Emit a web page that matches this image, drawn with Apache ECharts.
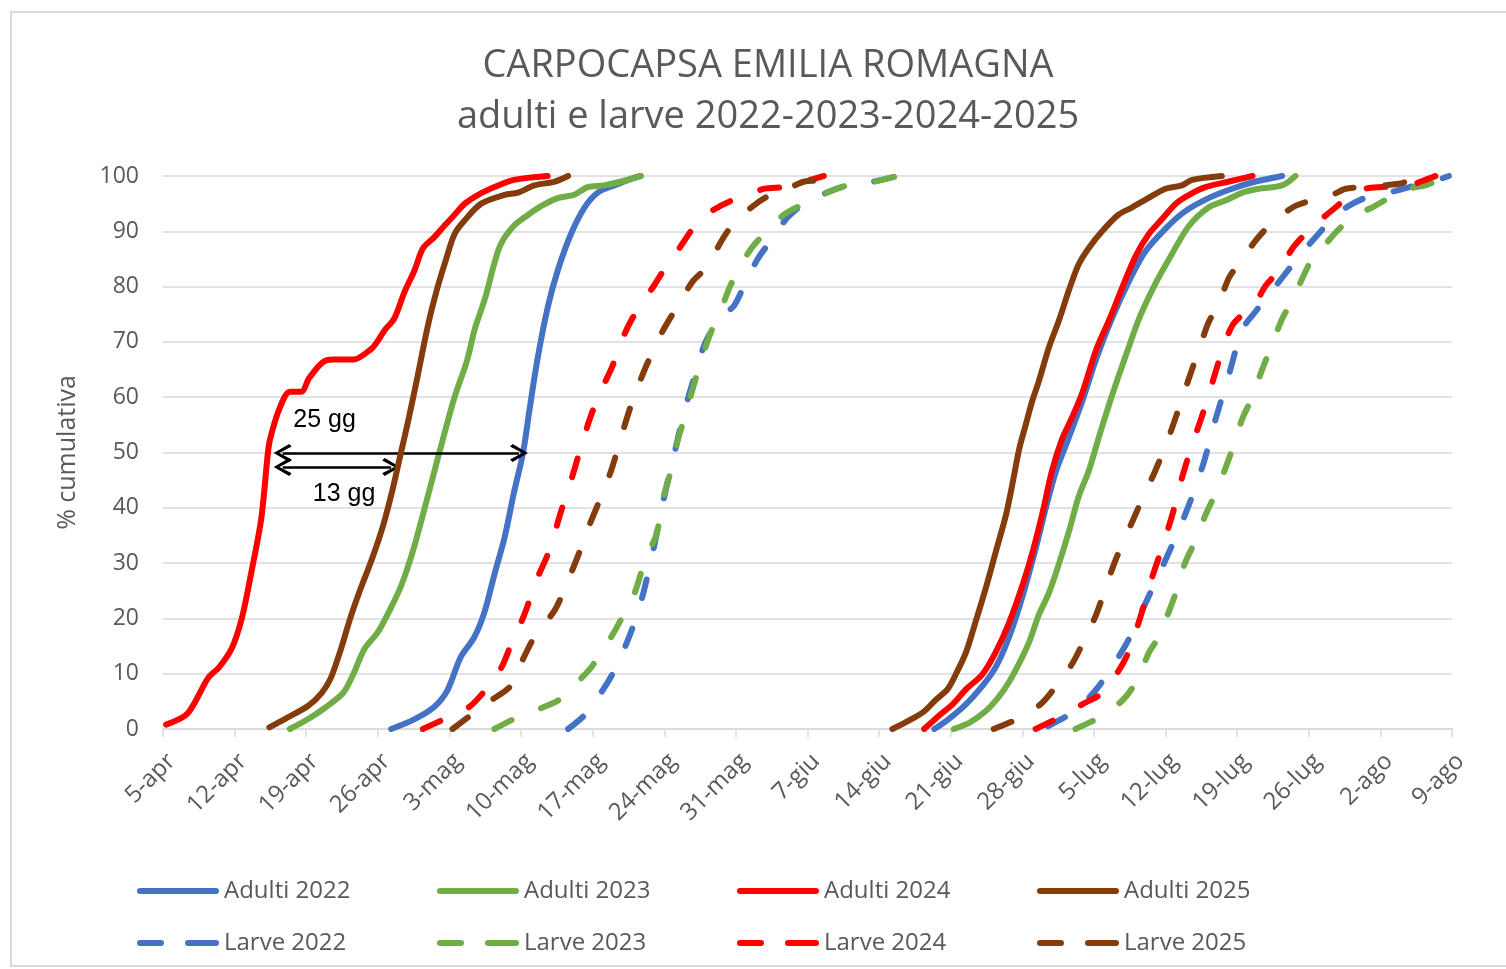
<!DOCTYPE html>
<html>
<head>
<meta charset="utf-8">
<title>Carpocapsa Emilia Romagna</title>
<script src="https://cdn.jsdelivr.net/npm/echarts@6/dist/echarts.min.js"></script>
<style>
  html, body { margin: 0; padding: 0; background: #fff; }
  #chart { width: 1506px; height: 969px; }
</style>
</head>
<body>
<div id="chart"></div>
<script>
// x = days after 5 April; each pair is [day, % cumulativa], two generations per series
const dayLabels = ["5-apr", "12-apr", "19-apr", "26-apr", "3-mag", "10-mag", "17-mag", "24-mag", "31-mag",
  "7-giu", "14-giu", "21-giu", "28-giu", "5-lug", "12-lug", "19-lug", "26-lug", "2-ago", "9-ago"];

const adulti2022 = [
  [[22.3,0],[24.6,1.8],[26.5,4],[27.8,7],[29.1,13],[30.4,16.5],[31.4,21],[32.4,28],[33.4,34.7],[34.3,42.7],[35.2,50],[35.8,57.4],[36.6,66.8],[37.6,76.2],[38.6,83],[39.9,89.6],[41.2,94.3],[42.5,97],[44.1,98.3],[46.1,99.7],[46.7,100]],
  [[75.4,0],[76.8,1.8],[78.5,4.5],[80.1,7.8],[81.4,11.2],[82.7,16.6],[84,23.9],[85.3,32.6],[86.3,40],[87.3,46.7],[88.4,52],[89.9,59.5],[91.2,66.8],[92.7,74],[94.4,80.9],[96,86.3],[98,90.5],[99.9,93.6],[102.2,96],[104.5,97.7],[106.8,99],[109.4,100]]
];
const adulti2023 = [
  [[12.4,0],[14.2,1.8],[15.8,3.8],[17.6,6.5],[18.6,9.9],[19.7,14.5],[21,17.5],[22.3,22],[23.3,26],[24.4,32],[25.3,38],[26.3,45],[27.3,52],[28.5,60],[29.7,66.5],[30.5,72.5],[31.5,78],[32.3,83.6],[33,87.6],[34.3,91],[35.7,93],[37,94.6],[38.6,96],[40.2,96.6],[41.5,98],[43.1,98.3],[44.8,99],[46.7,100]],
  [[77.3,0],[78.8,1.1],[80.4,3.2],[81.7,5.8],[82.7,8.5],[83.7,11.9],[84.7,15.9],[85.6,20.6],[86.6,24.6],[87.6,30],[88.6,36],[89.5,42],[90.5,46.7],[91.6,53.5],[92.8,60.5],[94.2,68],[95.5,74.6],[97,80.5],[98.5,85.5],[100.3,91],[102.2,94.3],[103.9,95.6],[105.5,97],[107.1,97.7],[109.4,98.3],[110.7,100]]
];
const adulti2024 = [
  [[0.3,0.8],[2.4,2.8],[4.4,9.2],[5.5,11.2],[6.7,14.5],[7.7,20],[8.6,28],[9.6,38],[10.3,50.7],[10.6,53.4],[11.4,58],[12.4,61],[13.5,61],[14.3,63.5],[15.6,66.3],[16.6,66.8],[18.6,66.8],[20.4,68.8],[21,70.2],[21.7,72.2],[22.6,74.2],[23.6,79],[24.6,83],[25.4,86.9],[26.5,88.9],[27.5,91],[28.5,93],[29.5,95],[30.8,96.6],[32.4,98],[34.3,99.3],[37.6,100]],
  [[74.4,0],[75.9,2.5],[77.2,4.5],[78.5,7.2],[80.1,9.9],[81.4,13.9],[82.7,19.2],[84,25.9],[85,32],[86,39.3],[86.9,46.7],[87.9,52.5],[88.9,56.5],[89.9,61],[91.2,68.5],[92.5,74],[93.8,80],[95.1,85.6],[96.4,89.6],[97.7,92.3],[99,95],[100.3,96.6],[101.9,98],[104.2,99],[106.5,100]]
];
const adulti2025 = [
  [[10.4,0.3],[11.9,1.8],[14.2,4.2],[15.5,6.5],[16.4,9.2],[17.4,14.5],[18.3,20],[19.3,25.3],[20.4,30.6],[21.5,36.7],[22.4,43],[23.2,49.5],[24,56],[24.8,63],[25.9,73],[26.8,79.6],[27.6,84.5],[28.5,89.5],[29.5,92],[31.1,95],[33.4,96.6],[34.7,97],[36.3,98.3],[38.3,99],[39.6,100]],
  [[71.3,0],[72.9,1.5],[74.4,3.2],[75.5,5.2],[76.7,7.2],[77.5,9.9],[78.5,13.9],[79.4,19.2],[80.4,25.3],[81.4,32],[82.4,38.7],[83,44],[83.7,50.7],[84.3,54.8],[85,59.5],[85.6,62.8],[86.6,69],[87.6,74],[88.6,79.6],[89.5,84],[90.5,87],[91.8,90],[93.4,93],[94.7,94.3],[96.3,96],[98,97.7],[99.6,98.3],[100.6,99.3],[103.5,100]]
];
const larve2022 = [
  [[39.6,0],[41.2,2.5],[42.8,6.5],[44.1,10.5],[45.4,15.9],[46.5,21.5],[47.4,28],[48,33],[49,42],[50.1,50.7],[50.9,57],[51.8,62.8],[53,69.8],[54.5,74.5],[55.8,76.5],[56.8,80.2],[58.1,84.9],[59.4,88.3],[61,92.4],[62.7,95],[64.9,97],[66.9,98.3],[69.5,99],[71.8,100]],
  [[86.5,0.5],[88.5,2.5],[89.9,4.5],[91.5,7.8],[94.1,15.2],[96,22.6],[98,30.6],[99.9,38.7],[101.6,47.4],[102.9,56.1],[104.2,64.1],[105.5,72.2],[106.8,75.5],[109.4,81.6],[111.4,86.3],[112.7,89],[114.3,92.3],[115.9,94.6],[117.9,96.3],[120.5,97.3],[121.8,98],[124.1,99],[125.7,100]]
];
const larve2023 = [
  [[32.4,0],[34.3,1.8],[37,3.8],[38.9,5.5],[40.9,9.2],[42,11.5],[43.8,16.6],[44.8,19.9],[46.1,24.6],[47.2,31],[48.2,35],[49,42.5],[49.7,47],[50.3,52.1],[50.9,55.8],[51.7,61],[52.5,66],[53.5,71.5],[54.5,75.5],[55.3,79.5],[56.2,82.9],[57.5,86.9],[58.8,89.6],[60.7,93],[62.7,95],[64.9,97],[66.9,98.3],[69.5,99],[71.8,100]],
  [[89.2,0],[91.5,2.1],[93.8,5.2],[95.1,8.5],[96.4,13.9],[97.3,16.6],[99,24.6],[99.9,30],[100.9,34],[101.9,38.7],[102.9,42.7],[103.9,47.4],[104.8,52.1],[105.5,56.1],[106.5,60.1],[107.4,64.8],[108.4,69.5],[109.4,74.2],[110.4,77.5],[111.4,81.6],[112.3,84.9],[113.6,87.6],[114.9,90.3],[116.6,93],[118.2,94.3],[119.8,96],[121.8,97.7],[123.4,98.3],[124.7,99.3],[125.7,100]]
];
const larve2024 = [
  [[25.4,0],[27.5,1.8],[29.8,3.8],[31.4,6.8],[33.1,11.2],[34,15.2],[35.3,20.6],[36.6,27.3],[37.7,32],[38.9,39.3],[39.9,45],[40.7,50],[41.8,56.5],[42.9,61.5],[43.9,65.5],[44.9,70.5],[45.8,74],[47,77.5],[48,80.2],[49.3,84],[50.5,87],[51.8,90.5],[53.5,93.5],[55.5,95.5],[58.8,97.7],[60.7,98],[62.7,99],[64.6,100]],
  [[85.3,0],[87.6,2.1],[89.9,4.5],[91.8,6.5],[93.4,10.5],[94.4,14],[95.5,20],[96.7,27.5],[97.7,33],[98.7,39],[99.6,45.4],[100.6,51.4],[101.6,56.8],[102.6,62.8],[103.5,68.2],[104.5,72.9],[105.5,74.9],[106.5,76.2],[107.8,80.2],[109.1,82.9],[110.4,86.9],[111.7,89.6],[113.3,92.3],[114.6,94.3],[115.9,96.3],[117.5,97.7],[119.2,98],[121.8,98.3],[123.4,99.3],[124.4,100]]
];
const larve2025 = [
  [[28.3,0],[30.1,2.5],[32.1,5.2],[34,7.8],[35,11.9],[36.3,16.6],[38.3,21.5],[39.4,26],[40.5,31],[41.6,36.5],[42.6,41],[43.8,46.7],[44.9,53.5],[45.8,58.8],[47.2,65.5],[48.8,71.8],[50.3,76.5],[51.8,81],[53.2,83.6],[54.6,88.3],[55.6,91],[57.5,94.3],[59.1,96.3],[61.4,98],[62.7,99],[64.3,99.3],[64.6,100]],
  [[81.2,0],[83.5,1.8],[85.8,4.5],[87.4,8],[88.9,11.9],[90,15.9],[91.2,20.6],[92.1,25.3],[93.1,30.5],[94.7,37.3],[96,42.7],[97,46.7],[98.3,52.7],[99.3,58],[100.3,63.5],[101.3,68.8],[102.2,73.5],[103.2,76.9],[104.2,81.6],[105.2,84.2],[106.8,88.3],[108.1,91],[109.4,93],[110.7,94.6],[112.3,95.6],[114.3,96.6],[115.6,97.7],[117.5,98],[119.2,98.3],[121.1,98.7],[121.8,99.3],[123.5,99.6]]
];

const seriesNames = ["Adulti 2022", "Adulti 2023", "Adulti 2024", "Adulti 2025",
  "Larve 2022", "Larve 2023", "Larve 2024", "Larve 2025"];
const seriesData = [adulti2022, adulti2023, adulti2024, adulti2025, larve2022, larve2023, larve2024, larve2025];
const colors = ["#4472C4", "#70AD47", "#FF0000", "#843C0C"];

// differenza al 50%: 2024 vs 2025 (13 gg) e 2024 vs 2022 (25 gg)
const arrowLong = [[11.7, 49.9], [34.8, 49.9]];
const arrowShort = [[11.7, 47.4], [22.3, 47.4]];
const arrowTexts = [{ text: "25 gg", at: [15.8, 55.9] }, { text: "13 gg", at: [17.7, 42.5] }];

const chevron = "path://M5,0 L10,8.6 L8.6,10 L5,3.2 L1.4,10 L0,8.6 Z";
const iconSolid = "path://M3,0 H79 A3,3 0 0 1 79,6 H3 A3,3 0 0 1 3,0 Z";
const iconDash = "path://M3,0 H24 A3,3 0 0 1 24,6 H3 A3,3 0 0 1 3,0 Z M51,0 H79 A3,3 0 0 1 79,6 H51 A3,3 0 0 1 51,0 Z";
const grey = "#595959";
const font = "'Open Sans', 'Noto Sans', sans-serif";

const chart = echarts.init(document.getElementById("chart"));

function join(gens) {
  // a '-' point breaks the line between the two generations
  return gens[0].concat([[(gens[0][gens[0].length - 1][0] + gens[1][0][0]) / 2, "-"]], gens[1]);
}

const series = seriesNames.map((name, i) => ({
  name,
  type: "line",
  data: join(seriesData[i]),
  symbol: "none",
  smooth: 0.3,
  connectNulls: false,
  color: colors[i % 4],
  lineStyle: {
    width: 6,
    color: colors[i % 4],
    type: i < 4 ? "solid" : [19, 32],
    cap: "round",
    join: "round",
  },
  z: 2 + i,
}));

series[2].markLine = {
  silent: true,
  symbol: [chevron, chevron],
  symbolSize: [18, 18],
  label: { show: false },
  lineStyle: { color: "#000", width: 2.5, type: "solid" },
  emphasis: { disabled: true },
  data: [
    [{ coord: arrowLong[0] }, { coord: arrowLong[1] }],
    [{ coord: arrowShort[0] }, { coord: arrowShort[1] }],
  ],
};
series[2].markPoint = {
  silent: true,
  symbol: "circle",
  symbolSize: 0,
  label: {
    show: true,
    color: "#000",
    fontSize: 25,
    fontFamily: "'Liberation Sans', Arial, sans-serif",
    formatter: (p) => p.name,
  },
  data: arrowTexts.map((t) => ({ name: t.text, coord: t.at })),
};

const legends = seriesNames.map((name, i) => ({
  left: 137 + (i % 4) * 300,
  top: i < 4 ? 877 : 929,
  padding: 0,
  itemWidth: 82,
  itemHeight: 6,
  selectedMode: false,
  textStyle: { color: grey, fontSize: 24, fontFamily: font, lineHeight: 28 },
  data: [{ name, icon: i < 4 ? iconSolid : iconDash }],
}));

chart.setOption({
  animation: false,
  backgroundColor: "#fff",
  title: {
    text: "CARPOCAPSA EMILIA ROMAGNA\nadulti e larve 2022-2023-2024-2025",
    left: 763,
    textAlign: "center",
    top: 36,
    textStyle: { color: grey, fontSize: 38, fontWeight: "normal", fontFamily: font, lineHeight: 51 },
  },
  graphic: [{
    type: "rect",
    shape: { x: 11, y: 12, width: 1500, height: 954 },
    style: { fill: "none", stroke: "#d9d9d9", lineWidth: 2 },
    silent: true,
  }],
  legend: legends,
  grid: { left: 163, top: 176, right: 54, bottom: 240 },
  xAxis: {
    type: "value",
    min: 0,
    max: 126,
    interval: 7,
    splitLine: { show: false },
    axisLine: { lineStyle: { color: "#d9d9d9", width: 1.5 } },
    axisTick: { show: true, length: 8, lineStyle: { color: "#d9d9d9", width: 1.5 } },
    axisLabel: {
      rotate: 45,
      margin: 20,
      verticalAlign: "top",
      color: grey,
      fontSize: 24,
      fontFamily: font,
      formatter: (v) => dayLabels[Math.round(v / 7)],
    },
  },
  yAxis: {
    type: "value",
    min: 0,
    max: 100,
    interval: 10,
    name: "% cumulativa",
    nameLocation: "middle",
    nameGap: 83,
    nameRotate: 90,
    nameTextStyle: { color: grey, fontSize: 25, fontFamily: font },
    axisLine: { show: false },
    axisTick: { show: false },
    splitLine: { lineStyle: { color: "#d9d9d9", width: 1.5 } },
    axisLabel: { margin: 24, color: grey, fontSize: 23, fontFamily: font },
  },
  series,
});
</script>
</body>
</html>
